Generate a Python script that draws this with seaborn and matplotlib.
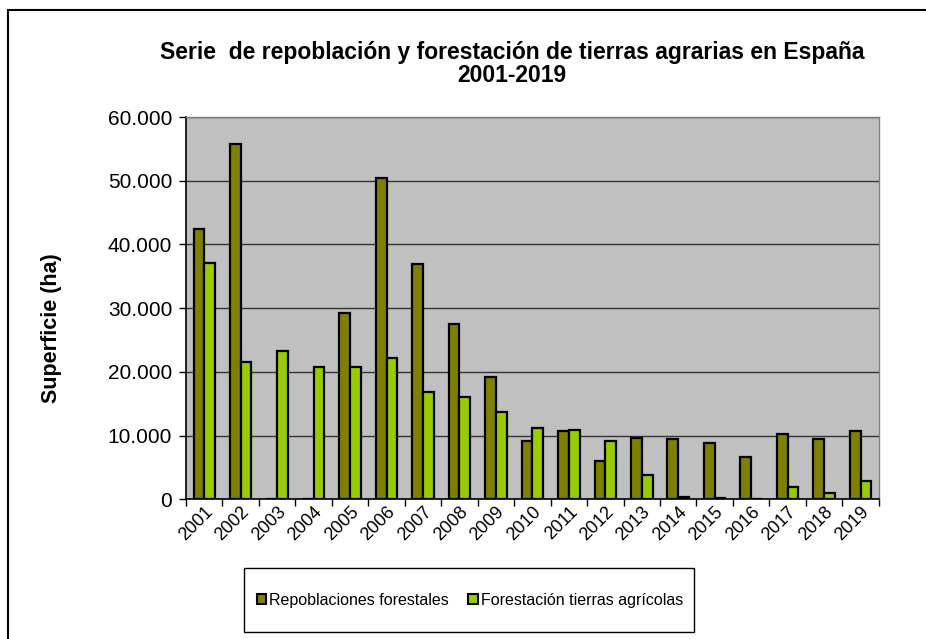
import pandas as pd
import numpy as np
import matplotlib
matplotlib.use('Agg')
import matplotlib.pyplot as plt
import matplotlib.ticker as mticker
from matplotlib.patches import Rectangle
import seaborn as sns

years = [str(y) for y in range(2001, 2020)]
repoblaciones = [42400, 55700, 0, 0, 29300, 50400, 36900, 27500, 19200, 9200,
                 10700, 6050, 9700, 9500, 8800, 6700, 10200, 9400, 10700]
forestacion = [37100, 21600, 23200, 20800, 20700, 22100, 16800, 16100, 13700, 11200,
               10800, 9200, 3800, 300, 150, 100, 1900, 950, 2900]
series = ['Repoblaciones forestales', 'Forestación tierras agrícolas']
colors = ['#808000', '#99CC00']

df = pd.DataFrame({
    'Año': years * 2,
    'Superficie': repoblaciones + forestacion,
    'Serie': [series[0]] * len(years) + [series[1]] * len(years),
})

sns.set_style('white')
plt.rcParams['font.family'] = ['Liberation Sans', 'DejaVu Sans']
plt.rcParams['text.color'] = 'black'
plt.rcParams['xtick.color'] = 'black'
plt.rcParams['ytick.color'] = 'black'

fig = plt.figure(figsize=(9.26, 6.39), dpi=100)
ax = fig.add_axes([0.2009, 0.2186, 0.7481, 0.5983])

sns.barplot(data=df, x='Año', y='Superficie', hue='Serie', palette=colors, saturation=1,
            width=0.59, edgecolor='black', linewidth=1.6, ax=ax, legend=False)

ax.set_facecolor('#C0C0C0')
ax.set_ylim(0, 60000)
ax.set_xlim(-0.5, len(years) - 0.5)
ax.yaxis.set_major_locator(mticker.MultipleLocator(10000))
ax.yaxis.set_major_formatter(mticker.FuncFormatter(lambda v, p: f'{int(v):,}'.replace(',', '.')))
ax.grid(axis='y', color='#333333', linewidth=1)
ax.set_axisbelow(True)

for side in ['top', 'right']:
    ax.spines[side].set_color('#808080')
    ax.spines[side].set_linewidth(1)
for side in ['left', 'bottom']:
    ax.spines[side].set_color('black')
    ax.spines[side].set_linewidth(1.2)

ax.tick_params(axis='y', which='major', left=True, length=5, width=1, labelsize=15, pad=5)
ax.tick_params(axis='x', which='major', bottom=False, length=0, labelsize=13, pad=3)
ax.set_xticks(range(len(years)))
ax.set_xticklabels(years, rotation=45, ha='right', va='top', rotation_mode='anchor')
ax.xaxis.set_minor_locator(mticker.FixedLocator(np.arange(-0.5, len(years), 1)))
ax.tick_params(axis='x', which='minor', bottom=True, length=5, width=1)
ax.set_xlabel('')
ax.set_ylabel('')

fig.text(52 / 926, 1 - 328 / 639, 'Superficie (ha)', rotation=90, ha='center', va='center',
         fontsize=15.5, fontweight='bold')
fig.text(512 / 926, 1 - 64 / 639, 'Serie  de repoblación y forestación de tierras agrarias en España\n2001-2019',
         ha='center', va='center', fontsize=16.5, fontweight='bold', linespacing=1.05)

handles = [Rectangle((0, 0), 1, 1, facecolor=c, edgecolor='black', linewidth=1.5) for c in colors]
fig.legend(handles, series, loc='center', bbox_to_anchor=(470 / 926, 1 - 600 / 639),
           ncol=2, frameon=False, fontsize=11.5, handlelength=0.6,
           handleheight=0.6, handletextpad=0.2, columnspacing=1.2, borderpad=0,
           borderaxespad=0)

# legend box and outer chart border
fig.patches.append(Rectangle((244 / 926, 1 - 632 / 639), 450 / 926, 64 / 639, transform=fig.transFigure,
                             fill=False, edgecolor='black', linewidth=1))
fig.patches.append(Rectangle((8 / 926, -0.05), 1.1, 1 - 10 / 639 + 0.05, transform=fig.transFigure,
                             fill=False, edgecolor='black', linewidth=1.5, zorder=0))

fig.savefig('out.png', dpi=100, facecolor='white')
